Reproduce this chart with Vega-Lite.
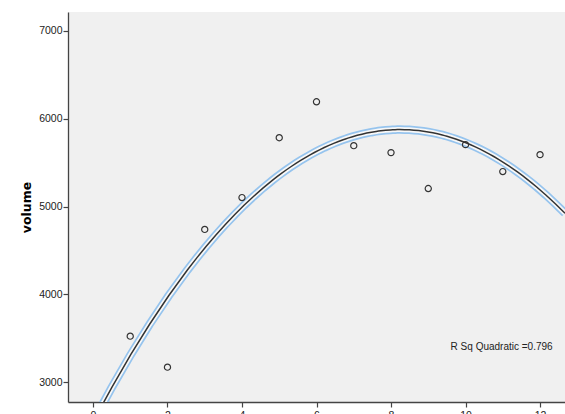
{
  "$schema": "https://vega.github.io/schema/vega-lite/v6.json",
  "width": 497,
  "height": 390,
  "autosize": "none",
  "padding": {"left": 68, "top": 12, "right": 0, "bottom": 12},
  "background": "white",
  "config": {
    "view": {"fill": "#f0f0f0", "stroke": null},
    "font": "Liberation Sans",
    "axis": {
      "grid": false,
      "domainColor": "#444444",
      "tickColor": "#444444",
      "labelColor": "#222222",
      "labelFontSize": 10.5,
      "tickSize": 5,
      "labelPadding": 1,
      "domainWidth": 1.3,
      "tickWidth": 1.2
    }
  },
  "datasets": {
    "pts": [
      {"month": 1, "volume": 3523},
      {"month": 2, "volume": 3170},
      {"month": 3, "volume": 4739},
      {"month": 4, "volume": 5102},
      {"month": 5, "volume": 5784},
      {"month": 6, "volume": 6193},
      {"month": 7, "volume": 5693},
      {"month": 8, "volume": 5614},
      {"month": 9, "volume": 5205},
      {"month": 10, "volume": 5705},
      {"month": 11, "volume": 5398},
      {"month": 12, "volume": 5591}
    ],
    "note": [{"x": 9.6, "y": 3398, "label": "R Sq Quadratic =0.796"}]
  },
  "layer": [
    {
      "data": {"name": "pts"},
      "transform": [{"regression": "volume", "on": "month", "method": "poly", "order": 2, "extent": [0, 12.67]}],
      "mark": {"type": "line", "color": "#96c4ee", "strokeWidth": 8.5, "clip": true},
      "encoding": {
        "x": {"field": "month", "type": "quantitative", "scale": {"domain": [-0.67, 12.67], "nice": false, "zero": false},
          "axis": {"values": [0, 2, 4, 6, 8, 10, 12], "title": null, "format": "d", "labelPadding": 3}},
        "y": {"field": "volume", "type": "quantitative", "scale": {"domain": [2773, 7216], "nice": false, "zero": false},
          "axis": {"values": [3000, 4000, 5000, 6000, 7000], "format": "d", "title": "volume", "titleFontWeight": "bold", "titleFontSize": 12.5, "titlePadding": 5, "titleColor": "#000000", "titleFont": "DejaVu Sans"}}
      }
    },
    {
      "data": {"name": "pts"},
      "transform": [{"regression": "volume", "on": "month", "method": "poly", "order": 2, "extent": [0, 12.67]}],
      "mark": {"type": "line", "color": "#f8f8f8", "strokeWidth": 5, "clip": true},
      "encoding": {
        "x": {"field": "month", "type": "quantitative"},
        "y": {"field": "volume", "type": "quantitative"}
      }
    },
    {
      "data": {"name": "pts"},
      "transform": [{"regression": "volume", "on": "month", "method": "poly", "order": 2, "extent": [0, 12.67]}],
      "mark": {"type": "line", "color": "#333333", "strokeWidth": 1.5, "clip": true},
      "encoding": {
        "x": {"field": "month", "type": "quantitative"},
        "y": {"field": "volume", "type": "quantitative"}
      }
    },
    {
      "data": {"name": "pts"},
      "mark": {"type": "point", "shape": "circle", "filled": false, "color": "#333333", "size": 38, "strokeWidth": 1.2, "opacity": 1},
      "encoding": {
        "x": {"field": "month", "type": "quantitative"},
        "y": {"field": "volume", "type": "quantitative"}
      }
    },
    {
      "data": {"name": "note"},
      "mark": {"type": "text", "align": "left", "baseline": "middle", "fontSize": 10, "color": "#222222"},
      "encoding": {
        "x": {"field": "x", "type": "quantitative"},
        "y": {"field": "y", "type": "quantitative"},
        "text": {"field": "label"}
      }
    }
  ]
}
